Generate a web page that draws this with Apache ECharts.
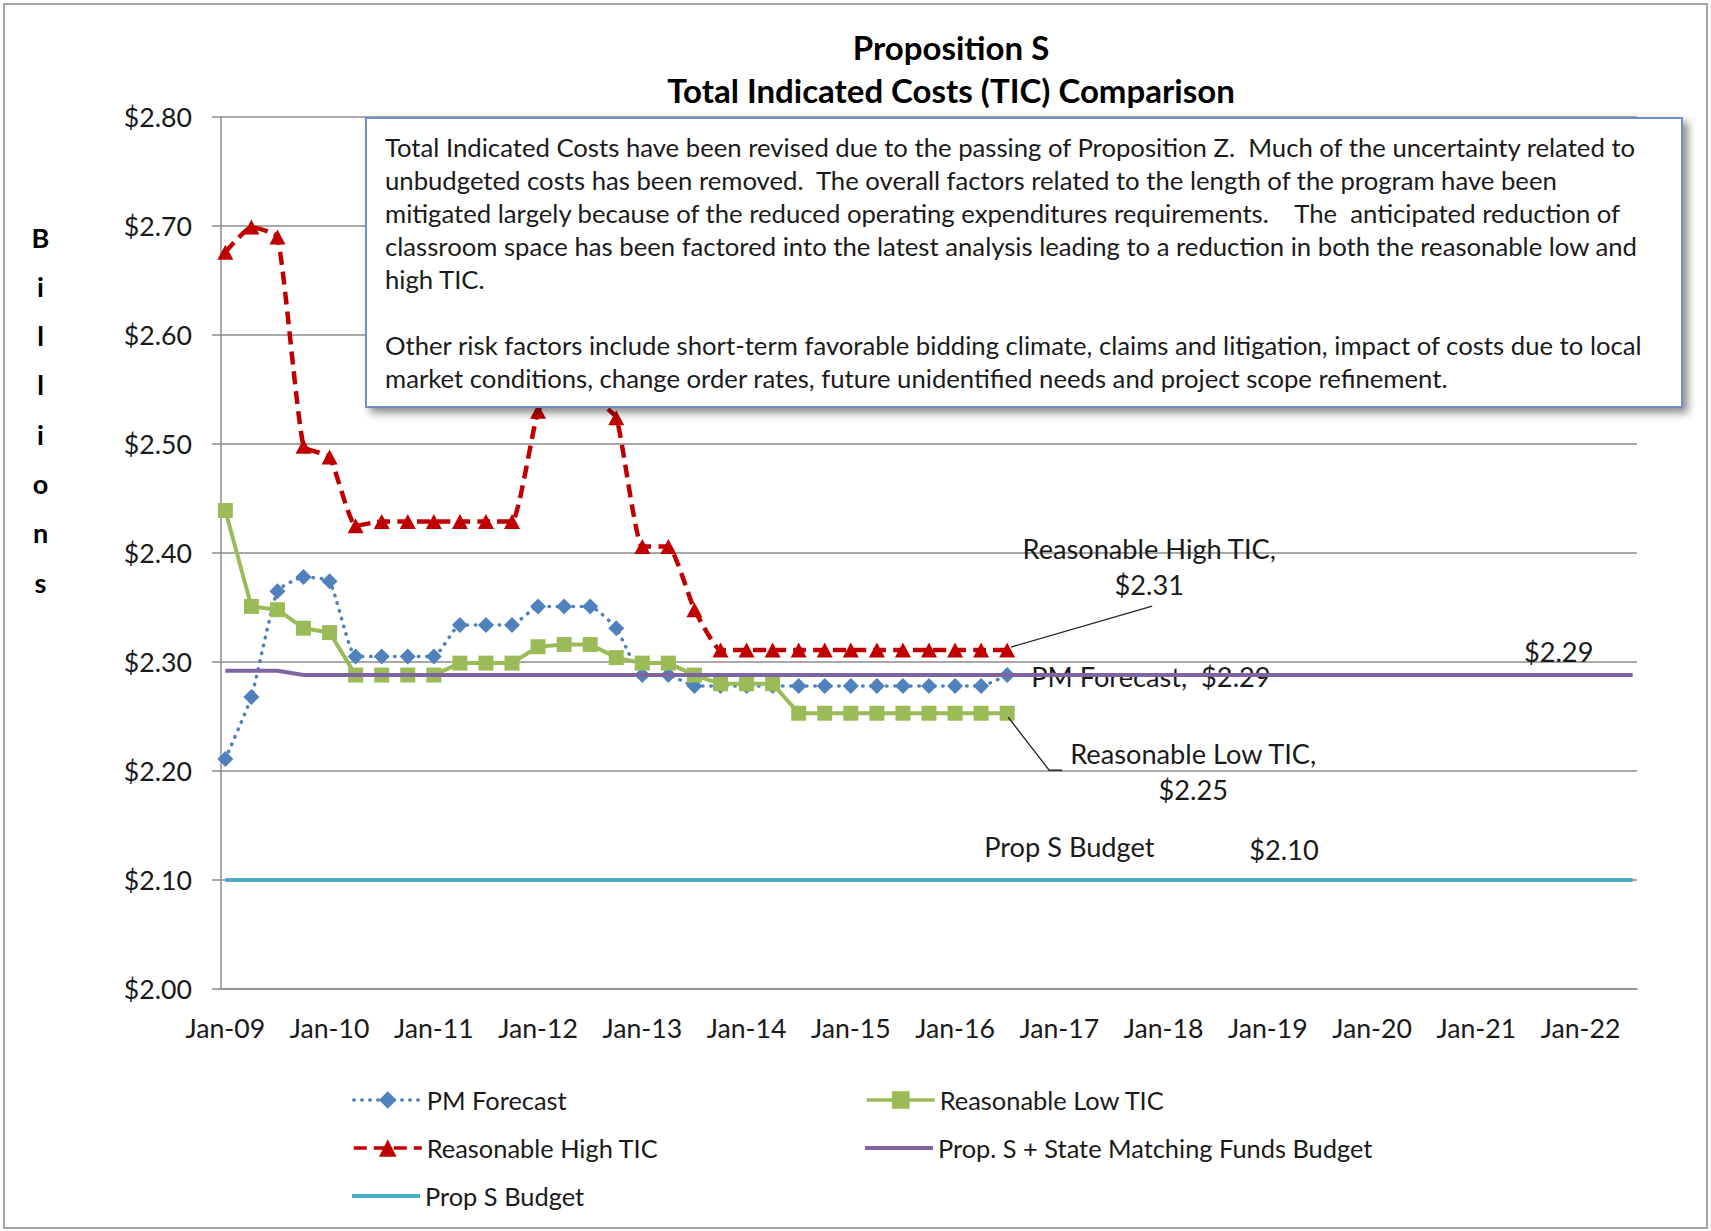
<!DOCTYPE html>
<html><head><meta charset="utf-8">
<script src="https://cdn.jsdelivr.net/npm/echarts@6/dist/echarts.min.js"></script>
<style>html,body{margin:0;padding:0;background:#fff;}#c{width:1711px;height:1231px;}</style>
</head><body><div id="c"></div>
<script>
// ---------- data ----------
const quarters = ['Jan-09','Apr-09','Jul-09','Oct-09','Jan-10','Apr-10','Jul-10','Oct-10',
  'Jan-11','Apr-11','Jul-11','Oct-11','Jan-12','Apr-12','Jul-12','Oct-12',
  'Jan-13','Apr-13','Jul-13','Oct-13','Jan-14','Apr-14','Jul-14','Oct-14',
  'Jan-15','Apr-15','Jul-15','Oct-15','Jan-16','Apr-16','Jul-16'];
const pmForecast = [2.211,2.268,2.365,2.378,2.374,2.305,2.305,2.305,
  2.305,2.334,2.334,2.334,2.351,2.351,2.351,2.331,
  2.288,2.288,2.278,2.278,2.278,2.278,2.278,2.278,
  2.278,2.278,2.278,2.278,2.278,2.278,2.288];
const highTIC = [2.676,2.699,2.690,2.498,2.488,2.425,2.429,2.429,
  2.429,2.429,2.429,2.429,2.530,2.570,2.545,2.524,
  2.406,2.406,2.348,2.311,2.311,2.311,2.311,2.311,
  2.311,2.311,2.311,2.311,2.311,2.311,2.311];
const lowTIC = [2.439,2.351,2.348,2.331,2.327,2.288,2.288,2.288,
  2.288,2.299,2.299,2.299,2.314,2.316,2.316,2.304,
  2.299,2.299,2.288,2.280,2.280,2.280,2.253,2.253,
  2.253,2.253,2.253,2.253,2.253,2.253,2.253];
const stateBudgetDates = ['Jan-09','Apr-09','Jul-09','Oct-09','Jul-22'];
const stateBudget = [2.292,2.292,2.292,2.288,2.288];
const propSBudgetDates = ['Jan-09','Jul-22'];
const propSBudget = [2.10,2.10];
const yearLabels = ['Jan-09','Jan-10','Jan-11','Jan-12','Jan-13','Jan-14','Jan-15',
  'Jan-16','Jan-17','Jan-18','Jan-19','Jan-20','Jan-21','Jan-22'];
const monthNames = ['Jan','Feb','Mar','Apr','May','Jun','Jul','Aug','Sep','Oct','Nov','Dec'];
const seriesNames = ['PM Forecast','Reasonable Low TIC','Reasonable High TIC',
  'Prop. S + State Matching Funds Budget','Prop S Budget'];
const boxLines = [
 'Total Indicated Costs have been revised due to the passing of Proposition Z.  Much of the uncertainty related to',
 'unbudgeted costs has been removed.  The overall factors related to the length of the program have been',
 'mitigated largely because of the reduced operating expenditures requirements.    The  anticipated reduction of',
 'classroom space has been factored into the latest analysis leading to a reduction in both the reasonable low and',
 'high TIC.',
 '',
 'Other risk factors include short-term favorable bidding climate, claims and litigation, impact of costs due to local',
 'market conditions, change order rates, future unidentified needs and project scope refinement.'
];

// monthly category axis Jan-09 .. Jul-22
const months = [];
for (let y = 2009; y <= 2022; y++) {
  for (let m = 0; m < 12; m++) {
    if (y === 2022 && m > 6) break;
    months.push(monthNames[m] + '-' + String(y % 100).padStart(2, '0'));
  }
}
const pairs = (xs, ys) => xs.map((x, i) => [x, ys[i]]);

// ---------- font fitting ----------
const FONT = 'Lato';
const mctx = document.createElement('canvas').getContext('2d');
function fit(text, target, weight) {
  mctx.font = (weight || 'normal') + ' 100px ' + FONT;
  return Math.round(100 * target / mctx.measureText(text).width * 10) / 10;
}
const titleSize = fit('Total Indicated Costs (TIC) Comparison', 568, 'bold');
const boxSize = fit(boxLines[3], 1252);
const tickSize = (fit('$2.70', 68) + fit('Jan-09', 80)) / 2;
const legendSize = fit('Prop. S + State Matching Funds Budget', 434);
const annSize = fit('Reasonable High TIC,', 254);
const TXT = '#1a1a1a';
const GRIDC = '#8c8c8c';
const COLORS = ['#4F81BD', '#9BBB59', '#C00000', '#8064A2', '#4BACC6'];

const chart = echarts.init(document.getElementById('c'), null, {renderer: 'svg'});

function legendItem(idx, left, cy, plain) {
  const o = {
    data: [seriesNames[idx]], left: left, top: cy - 15, padding: 0, itemGap: 0,
    itemWidth: 68, itemHeight: 22, selectedMode: false,
    lineStyle: {width: 3.5},
    textStyle: {fontFamily: FONT, fontSize: legendSize, color: TXT, lineHeight: 30}
  };
  if (plain) {
    o.data = [{name: seriesNames[idx], icon: 'rect', itemStyle: {color: COLORS[idx]}}];
    o.itemHeight = 4;
  }
  return o;
}

chart.setOption({
  animation: false,
  backgroundColor: '#fff',
  grid: {left: 221, top: 117, width: 1416, height: 872},
  legend: [
    legendItem(0, 352, 1100),
    legendItem(2, 352, 1148),
    legendItem(4, 352, 1196, true),
    legendItem(1, 865, 1100),
    legendItem(3, 865, 1148, true)
  ],
  xAxis: {
    type: 'category', data: months, boundaryGap: true,
    axisLine: {show: true, lineStyle: {color: GRIDC, width: 1.5}},
    axisTick: {show: false},
    splitLine: {show: false},
    axisLabel: {
      interval: (idx, val) => yearLabels.indexOf(val) >= 0,
      fontFamily: FONT, fontSize: tickSize, color: TXT, margin: 24, lineHeight: 30
    }
  },
  yAxis: {
    type: 'value', min: 2.0, max: 2.8, interval: 0.1,
    axisLine: {show: true, lineStyle: {color: GRIDC, width: 1.5}},
    axisTick: {show: true, length: 9, inside: false, lineStyle: {color: GRIDC, width: 1.5}},
    splitLine: {show: true, lineStyle: {color: GRIDC, width: 1.5}},
    axisLabel: {
      formatter: v => '$' + v.toFixed(2),
      fontFamily: FONT, fontSize: tickSize, color: TXT, margin: 29
    }
  },
  series: [
    {
      name: seriesNames[0], type: 'line', data: pairs(quarters, pmForecast),
      smooth: 0.15, symbol: 'diamond', symbolSize: [16, 16], showAllSymbol: true,
      lineStyle: {color: COLORS[0], width: 3.5, type: [0.5, 7.5], cap: 'round'},
      itemStyle: {color: COLORS[0]}, z: 2
    },
    {
      name: seriesNames[1], type: 'line', data: pairs(quarters, lowTIC),
      symbol: 'rect', symbolSize: 15, showAllSymbol: true,
      lineStyle: {color: COLORS[1], width: 4},
      itemStyle: {color: COLORS[1]}, z: 3
    },
    {
      name: seriesNames[2], type: 'line', data: pairs(quarters, highTIC),
      smooth: 0.15, symbol: 'triangle', symbolSize: [16, 15], showAllSymbol: true,
      lineStyle: {color: COLORS[2], width: 4.5, type: [13, 7]},
      itemStyle: {color: COLORS[2]}, z: 4
    },
    {
      name: seriesNames[3], type: 'line', data: pairs(stateBudgetDates, stateBudget),
      symbol: 'none', showSymbol: false,
      lineStyle: {color: COLORS[3], width: 4},
      itemStyle: {color: COLORS[3]}, z: 5
    },
    {
      name: seriesNames[4], type: 'line', data: pairs(propSBudgetDates, propSBudget),
      symbol: 'none', showSymbol: false,
      lineStyle: {color: COLORS[4], width: 4},
      itemStyle: {color: COLORS[4]}, z: 5
    }
  ]
});

// ---------- annotations anchored on data ----------
const px = (x, y) => chart.convertToPixel({gridIndex: 0}, [x, y]);
const lastQ = quarters[quarters.length - 1];
const pH = px(lastQ, highTIC[highTIC.length - 1]);
const pP = px(lastQ, pmForecast[pmForecast.length - 1]);
const pL = px(lastQ, lowTIC[lowTIC.length - 1]);
const pU = px(stateBudgetDates[stateBudgetDates.length - 1], stateBudget[stateBudget.length - 1]);
const pB = px(lastQ, propSBudget[0]);

chart.setOption({
  graphic: {elements: [
    // outer border
    {type: 'rect', z: 0, silent: true, shape: {x: 4, y: 4, width: 1703, height: 1224},
     style: {fill: 'none', stroke: '#a6a6a6', lineWidth: 2}},
    // title
    {type: 'text', z: 10, style: {x: 951, y: 26, text: 'Proposition S\nTotal Indicated Costs (TIC) Comparison',
      fontFamily: FONT, fontWeight: 'bold', fontSize: titleSize, lineHeight: 42.5,
      fill: '#000', align: 'center', verticalAlign: 'top'}},
    // y-axis name
    {type: 'text', z: 10, style: {x: 40.5, y: 212.4, text: 'B\ni\nl\nl\ni\no\nn\ns',
      fontFamily: FONT, fontWeight: 'bold', fontSize: 27, lineHeight: 49.3,
      fill: '#000', align: 'center', verticalAlign: 'top'}},
    // text box
    {type: 'rect', z: 100, shape: {x: 366, y: 118, width: 1316, height: 289},
     style: {fill: '#fff', stroke: '#6f8fc2', lineWidth: 2,
       shadowBlur: 8, shadowOffsetX: 5, shadowOffsetY: 5, shadowColor: 'rgba(0,0,0,0.45)'}},
    {type: 'text', z: 101, style: {x: 385, y: 130, text: boxLines.join('\n'),
      fontFamily: FONT, fontSize: boxSize, lineHeight: 33, fill: TXT,
      align: 'left', verticalAlign: 'top'}},
    // High TIC label + leader
    {type: 'text', z: 10, style: {x: pH[0] + 142, y: pH[1] - 120, text: 'Reasonable High TIC,\n$2.31',
      fontFamily: FONT, fontSize: annSize, lineHeight: 36, fill: TXT, align: 'center', verticalAlign: 'top'}},
    {type: 'polyline', z: 10, shape: {points: [[pH[0] + 145, pH[1] - 44], [pH[0] + 4, pH[1] - 3]]},
     style: {stroke: '#262626', lineWidth: 1.3, fill: null}},
    // PM forecast label (under the lines)
    {type: 'text', z: 1, style: {x: pP[0] + 24, y: pP[1] + 1, text: 'PM Forecast,  $2.29',
      fontFamily: FONT, fontSize: annSize, fill: TXT, align: 'left', verticalAlign: 'middle'}},
    // State budget value
    {type: 'text', z: 10, style: {x: pU[0] - 74, y: pU[1] - 24, text: '$2.29',
      fontFamily: FONT, fontSize: annSize, fill: TXT, align: 'center', verticalAlign: 'middle'}},
    // Low TIC label + leader
    {type: 'text', z: 10, style: {x: pL[0] + 186, y: pL[1] + 22, text: 'Reasonable Low TIC,\n$2.25',
      fontFamily: FONT, fontSize: annSize, lineHeight: 36, fill: TXT, align: 'center', verticalAlign: 'top'}},
    {type: 'polyline', z: 10, shape: {points: [[pL[0] + 1, pL[1] + 4], [pL[0] + 42, pL[1] + 57], [pL[0] + 55, pL[1] + 57]]},
     style: {stroke: '#262626', lineWidth: 1.3, fill: null}},
    // Prop S budget labels
    {type: 'text', z: 10, style: {x: pB[0] - 23, y: pB[1] - 34, text: 'Prop S Budget',
      fontFamily: FONT, fontSize: annSize, fill: TXT, align: 'left', verticalAlign: 'middle'}},
    {type: 'text', z: 10, style: {x: pB[0] + 242, y: pB[1] - 31, text: '$2.10',
      fontFamily: FONT, fontSize: annSize, fill: TXT, align: 'left', verticalAlign: 'middle'}}
  ]}
});
</script>
</body></html>
